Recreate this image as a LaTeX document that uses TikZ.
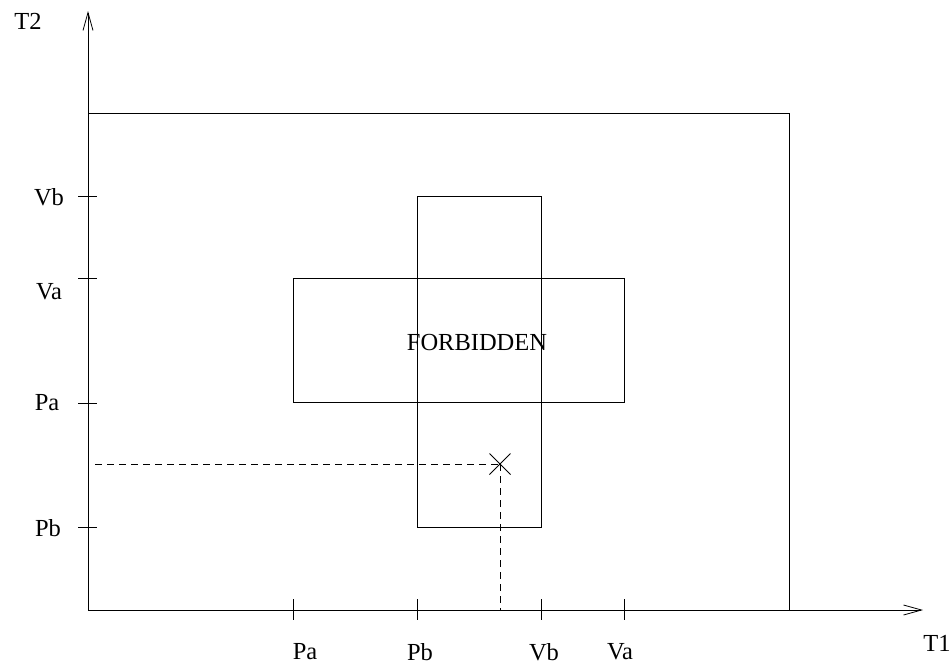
\documentclass[tikz,border=0pt]{standalone}
\usepackage{fontspec}
\setmainfont{Liberation Serif}
\usetikzlibrary{arrows.meta}
\begin{document}
\begin{tikzpicture}[x=1pt,y=-1pt,
  every node/.style={font=\fontsize{24.5}{28}\selectfont, inner sep=0pt},
  ln/.style={line width=0.8pt, draw=black},
  axis/.style={ln, -{Straight Barb[length=18pt,width=10pt,line width=0.8pt]}},
  dsh/.style={ln, dash pattern=on 7pt off 5pt}]
\useasboundingbox (0,0) rectangle (952,664);
% origin and axis ends
\coordinate (O) at (88,610);
\coordinate (ytip) at (88,11);
\coordinate (xtip) at (923,610);
\draw[axis] (O) -- (ytip);
\draw[axis] (O) -- (xtip);
% outer region
\draw[ln] (O) |- (789,113) -- (789,610);
% forbidden rectangles
\draw[ln] (293,278) rectangle (624,402);
\draw[ln] (417,196) rectangle (541,527);
\node (forb) at (477,343) {FORBIDDEN};
% y ticks
\foreach \yy in {196,278,403,527} \draw[ln] (78,\yy) -- (97,\yy);
% x ticks
\foreach \xx in {293,417,541,624} \draw[ln] (\xx,599) -- (\xx,620);
% axis labels
\node (t2) at (28,21) {T2};
\node (t1) at (937,643) {T1};
\node (yVb) at (49,197) {Vb};
\node (yVa) at (49,292) {Va};
\node (yPa) at (47,403) {Pa};
\node (yPb) at (48,528) {Pb};
\node (xPa) at (305,652) {Pa};
\node (xPb) at (420,652) {Pb};
\node (xVb) at (544,652) {Vb};
\node (xVa) at (620,652) {Va};
% point and projections
\coordinate (pt) at (500,464);
\coordinate (ph) at (95,464);
\coordinate (pv) at (500,610);
\draw[dsh] (ph) -- (pt);
\draw[dsh] (pt) -- (pv);
\draw[ln] (489.5,453.5) -- (510.5,474.5);
\draw[ln] (489.5,474.5) -- (510.5,453.5);
\end{tikzpicture}
\end{document}
